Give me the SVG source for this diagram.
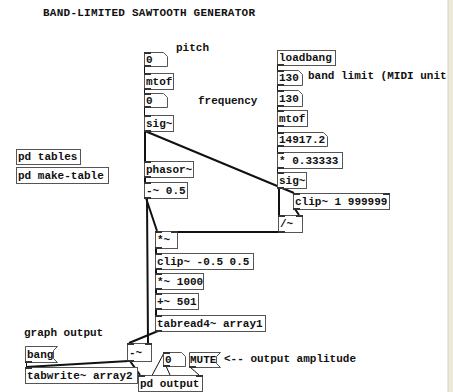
<svg xmlns="http://www.w3.org/2000/svg" width="453" height="392" viewBox="0 0 453 392">
<style>
.b{fill:#fff;stroke:#555;stroke-width:1}
.t{font-family:"Liberation Mono","Courier New",monospace;font-weight:bold;font-size:11px;fill:#111}
.io{fill:#333}
.c{stroke:#111;stroke-width:1;fill:none}
.s{stroke:#111;stroke-width:2;fill:none}
</style>
<rect width="453" height="392" fill="#fff"/>
<rect x="448" y="0" width="5" height="392" fill="#ece9d8"/>
<line x1="448" y1="0" x2="448" y2="392" stroke="#d6d2c2"/>
<text class="t" x="43" y="16" textLength="212">BAND-LIMITED SAWTOOTH GENERATOR</text>
<text class="t" x="176" y="51">pitch</text>
<text class="t" x="198" y="104">frequency</text>
<text class="t" x="308" y="79">band limit (MIDI unit</text>
<text class="t" x="24" y="336">graph output</text>
<text class="t" x="224" y="362">&lt;-- output amplitude</text>
<g id="connectors">
<path class="c" d="M144.5 66V73M144.5 89V93M144.5 107V115"/>
<path class="c" d="M277.5 65V70M277.5 85V90M277.5 106V110M277.5 126V132M277.5 146V152M277.5 168V172"/>
<path class="c" d="M26.5 362V367M166 366L170 375M190 367L199 375M164 353L148 383"/>
<path class="s" d="M145 131V161M145 131L294 193M145 177V182M146 198L157 231M147 198L148 343"/>
<path class="s" d="M279 188V215M295 209L299 215M280 232L176 232"/>
<path class="s" d="M156 248V253M156 269V273M156 289V293M156 309V315M158 331L129 343M129 361L26 367M130 361L140 375"/>
</g>
<g id="nb_pitch"><path class="b" d="M144.5 52.5H163.5L167.5 56.5V66.5H144.5Z"/><text class="t" x="146" y="63">0</text></g>
<g id="mtof1"><rect class="b" x="144.5" y="73.5" width="29" height="16"/><text class="t" x="146" y="85">mtof</text></g>
<g id="nb_freq"><path class="b" d="M144.5 93.5H163.5L167.5 97.5V107.5H144.5Z"/><text class="t" x="146" y="104">0</text></g>
<g id="sig1"><rect class="b" x="144.5" y="115.5" width="29" height="16"/><text class="t" x="146" y="127">sig~</text></g>
<g id="phasor"><rect class="b" x="144.5" y="161.5" width="49" height="16"/><text class="t" x="146" y="173">phasor~</text></g>
<g id="minus05"><rect class="b" x="144.5" y="182.5" width="43" height="16"/><text class="t" x="146" y="194">-~ 0.5</text></g>
<g id="loadbang"><rect class="b" x="277.5" y="50.5" width="58" height="15"/><text class="t" x="279" y="61">loadbang</text></g>
<g id="nb130a"><path class="b" d="M277.5 70.5H298.5L302.5 74.5V85.5H277.5Z"/><text class="t" x="279" y="81">130</text></g>
<g id="nb130b"><path class="b" d="M277.5 90.5H298.5L302.5 94.5V106.5H277.5Z"/><text class="t" x="279" y="102">130</text></g>
<g id="mtof2"><rect class="b" x="277.5" y="110.5" width="30" height="16"/><text class="t" x="279" y="122">mtof</text></g>
<g id="nb14917"><path class="b" d="M277.5 132.5H323.5L327.5 136.5V146.5H277.5Z"/><text class="t" x="279" y="143">14917.2</text></g>
<g id="mul033"><rect class="b" x="277.5" y="152.5" width="65" height="16"/><text class="t" x="279" y="164">* 0.33333</text></g>
<g id="sig2"><rect class="b" x="277.5" y="172.5" width="29" height="16"/><text class="t" x="279" y="184">sig~</text></g>
<g id="clip1"><rect class="b" x="293.5" y="193.5" width="96" height="16"/><text class="t" x="295" y="205">clip~ 1 999999</text></g>
<g id="div"><rect class="b" x="278.5" y="215.5" width="24" height="17"/><text class="t" x="280" y="227">/~</text></g>
<g id="pdtables"><rect class="b" x="16.5" y="149.5" width="64" height="15"/><text class="t" x="18" y="160">pd tables</text></g>
<g id="pdmaketable"><rect class="b" x="16.5" y="167.5" width="92" height="16"/><text class="t" x="18" y="179">pd make-table</text></g>
<g id="mul"><rect class="b" x="155.5" y="231.5" width="22" height="17"/><text class="t" x="157" y="243">*~</text></g>
<g id="clip2"><rect class="b" x="155.5" y="253.5" width="98" height="16"/><text class="t" x="157" y="265">clip~ -0.5 0.5</text></g>
<g id="mul1000"><rect class="b" x="155.5" y="273.5" width="48" height="16"/><text class="t" x="157" y="285">*~ 1000</text></g>
<g id="add501"><rect class="b" x="155.5" y="293.5" width="43" height="16"/><text class="t" x="157" y="305">+~ 501</text></g>
<g id="tabread"><rect class="b" x="155.5" y="315.5" width="110" height="16"/><text class="t" x="157" y="327">tabread4~ array1</text></g>
<g id="minus"><rect class="b" x="127.5" y="343.5" width="24" height="18"/><text class="t" x="129" y="356">-~</text></g>
<g id="bang"><path class="b" d="M25.5 346.5H57.5L53.5 350.5V358.5L57.5 362.5H25.5Z"/><text class="t" x="27" y="358">bang</text></g>
<g id="tabwrite"><rect class="b" x="25.5" y="367.5" width="112" height="16"/><text class="t" x="27" y="379">tabwrite~ array2</text></g>
<g id="nb_amp"><path class="b" d="M163.5 352.5H181.5L185.5 356.5V366.5H163.5Z"/><text class="t" x="165" y="363">0</text></g>
<g id="mute"><path class="b" d="M189.5 352.5H220.5L216.5 356.5V363.5L220.5 367.5H189.5Z"/><text class="t" x="190" y="363">MUTE</text></g>
<g id="pdoutput"><rect class="b" x="138.5" y="375.5" width="64" height="16"/><text class="t" x="140" y="387">pd output</text></g>
<g id="ports" class="io">
<rect x="144" y="52" width="7" height="2"/><rect x="144" y="65" width="7" height="2"/>
<rect x="144" y="73" width="7" height="2"/><rect x="144" y="88" width="7" height="2"/>
<rect x="144" y="93" width="7" height="2"/><rect x="144" y="106" width="7" height="2"/>
<rect x="144" y="115" width="7" height="2"/><rect x="144" y="130" width="7" height="2"/>
<rect x="144" y="161" width="7" height="2"/><rect x="144" y="176" width="7" height="2"/>
<rect x="144" y="182" width="7" height="2"/><rect x="144" y="197" width="7" height="2"/>
<rect x="277" y="64" width="7" height="2"/><rect x="277" y="70" width="7" height="2"/><rect x="277" y="84" width="7" height="2"/>
<rect x="277" y="90" width="7" height="2"/><rect x="277" y="105" width="7" height="2"/>
<rect x="277" y="110" width="7" height="2"/><rect x="277" y="125" width="7" height="2"/>
<rect x="277" y="132" width="7" height="2"/><rect x="277" y="145" width="7" height="2"/>
<rect x="277" y="152" width="7" height="2"/><rect x="277" y="167" width="7" height="2"/>
<rect x="277" y="172" width="7" height="2"/><rect x="277" y="187" width="7" height="2"/>
<rect x="293" y="193" width="7" height="2"/><rect x="383" y="193" width="7" height="2"/><rect x="293" y="208" width="7" height="2"/>
<rect x="278" y="215" width="7" height="2"/><rect x="296" y="215" width="7" height="2"/><rect x="278" y="231" width="7" height="2"/>
<rect x="155" y="231" width="7" height="2"/><rect x="171" y="231" width="7" height="2"/><rect x="155" y="247" width="7" height="2"/>
<rect x="155" y="253" width="7" height="2"/><rect x="155" y="268" width="7" height="2"/>
<rect x="155" y="273" width="7" height="2"/><rect x="155" y="288" width="7" height="2"/>
<rect x="155" y="293" width="7" height="2"/><rect x="155" y="308" width="7" height="2"/>
<rect x="155" y="315" width="7" height="2"/><rect x="155" y="330" width="7" height="2"/>
<rect x="127" y="343" width="7" height="2"/><rect x="145" y="343" width="7" height="2"/><rect x="127" y="360" width="7" height="2"/>
<rect x="25" y="361" width="7" height="2"/><rect x="25" y="367" width="7" height="2"/>
<rect x="163" y="352" width="7" height="2"/><rect x="163" y="365" width="7" height="2"/>
<rect x="189" y="366" width="7" height="2"/>
<rect x="138" y="375" width="7" height="2"/><rect x="196" y="375" width="7" height="2"/>
</g>
</svg>
